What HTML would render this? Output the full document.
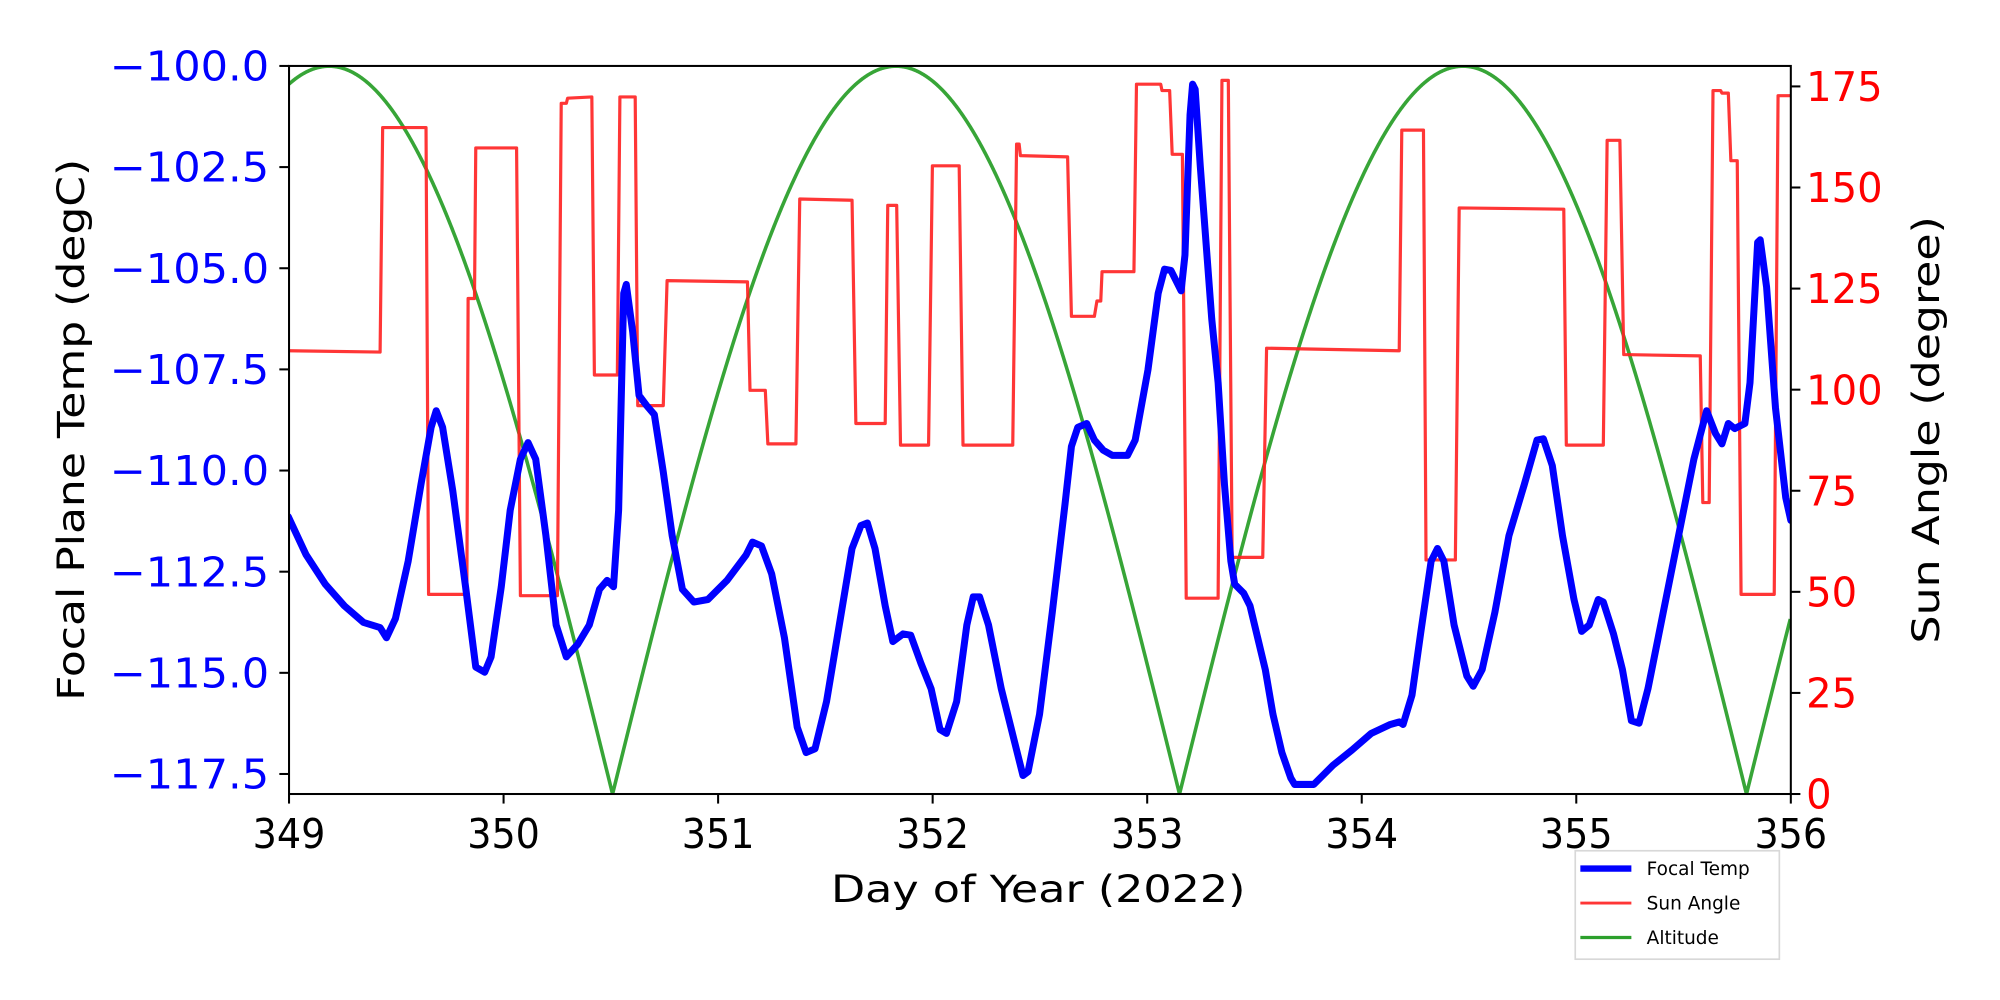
<!DOCTYPE html>
<html><head><meta charset="utf-8"><style>html,body{margin:0;padding:0;background:#fff}svg{display:block}text{font-family:"DejaVu Sans","Liberation Sans",sans-serif}</style></head>
<body>
<svg id="s" width="2000" height="1000" viewBox="0 0 1568 784" xmlns="http://www.w3.org/2000/svg">
<rect width="1568" height="784" fill="#fff"/>
<defs><clipPath id="c"><rect x="226.6" y="51.7" width="1177.4" height="570.8"/></clipPath></defs>
<g clip-path="url(#c)" fill="none" stroke-linejoin="round">
<path id="green" stroke="#2ca02c" stroke-opacity="0.95" stroke-width="2.8" d=""/>
<path stroke="#ff2020" stroke-opacity="0.9" stroke-width="2.5" d="M226,275 L298,276 L300,100 L334,100 L336,466 L366,466 L367,234 L372,234 L373,116 L405,116 L408,467 L437,467 L440,81 L444,81 L445,77 L464,76 L466,294 L484,294 L486,76 L498,76 L500,318 L520,318 L523,220 L586,221 L588,306 L600,306 L602,348 L624,348 L627,156 L668,157 L671,332 L694,332 L696,161 L703,161 L706,349 L728,349 L731,130 L752,130 L755,349 L794,349 L797,113 L799,113 L800,122 L837,123 L840,248 L858,248 L860,236 L863,236 L864,213 L889,213 L891,66 L910,66 L911,71 L917,71 L919,121 L927,121 L930,469 L955,469 L958,63 L963,63 L966,437 L990,437 L993,273 L1097,275 L1099,102 L1116,102 L1118,439 L1141,439 L1144,163 L1226,164 L1228,349 L1257,349 L1260,110 L1270,110 L1273,278 L1333,279 L1335,394 L1340,394 L1343,71 L1349,71 L1350,73 L1355,73 L1357,126 L1362,126 L1365,466 L1391,466 L1394,75 L1404,75"/>
<path stroke="#0000ff" stroke-width="5.5" stroke-linecap="round" d="M226,405 L240,435 L255,458 L270,475 L285,488 L298,492 L303,500 L310,485 L320,440 L330,380 L338,335 L342,322 L347,335 L355,385 L365,460 L373,523 L380,527 L385,515 L393,460 L400,400 L408,360 L414,347 L420,360 L428,420 L436,490 L444,515 L453,505 L462,490 L470,462 L476,455 L481,460 L485,400 L489,230 L491,223 L496,260 L501,310 L507,318 L513,325 L520,370 L527,420 L535,462 L544,472 L555,470 L570,455 L585,435 L590,425 L597,428 L605,450 L615,500 L625,570 L632,590 L639,587 L648,550 L658,490 L668,430 L675,412 L680,410 L686,430 L694,475 L700,503 L708,497 L714,498 L722,520 L730,540 L737,572 L742,575 L750,550 L758,490 L763,468 L768,468 L775,490 L785,540 L795,580 L802,608 L806,605 L815,560 L825,480 L835,395 L840,350 L845,335 L852,332 L858,345 L865,353 L872,357 L884,357 L890,345 L900,290 L908,230 L913,211 L918,212 L926,228 L929,200 L933,90 L935,66 L937,70 L941,130 L950,250 L955,300 L960,380 L965,440 L968,458 L975,465 L980,475 L986,500 L992,525 L998,560 L1005,590 L1012,610 L1015,615 L1030,615 L1045,600 L1060,588 L1075,575 L1090,568 L1097,566 L1100,568 L1107,545 L1114,495 L1122,440 L1127,430 L1132,440 L1140,490 L1150,530 L1155,538 L1162,525 L1172,480 L1183,420 L1195,380 L1205,345 L1210,344 L1217,365 L1225,420 L1234,470 L1240,495 L1246,490 L1253,470 L1257,472 L1265,497 L1272,525 L1279,565 L1285,567 L1292,540 L1300,500 L1310,450 L1320,400 L1328,360 L1338,322 L1345,340 L1350,348 L1355,332 L1360,336 L1368,332 L1372,300 L1378,190 L1380,188 L1385,225 L1392,320 L1400,390 L1404,408"/>
</g>
<rect x="226.6" y="51.7" width="1177.4" height="570.8" fill="none" stroke="#000" stroke-width="1.6"/>
<g id="ticks" stroke="#000" stroke-width="1.6"></g>
<g id="labels"></g>
<text x="814" y="707" font-size="29" text-anchor="middle" textLength="325" lengthAdjust="spacingAndGlyphs">Day of Year (2022)</text>
<text transform="translate(66,337) rotate(-90)" font-size="29" text-anchor="middle" textLength="425" lengthAdjust="spacingAndGlyphs">Focal Plane Temp (degC)</text>
<text transform="translate(1520,337) rotate(-90)" font-size="29" text-anchor="middle" textLength="335" lengthAdjust="spacingAndGlyphs">Sun Angle (degree)</text>
<rect x="1235" y="667" width="160" height="85" fill="#fff" stroke="#d8d8d8" stroke-width="1.3"/>
<line x1="1239" y1="681" x2="1279" y2="681" stroke="#0000ff" stroke-width="5"/>
<line x1="1239" y1="708" x2="1279" y2="708" stroke="#ff2020" stroke-opacity="0.9" stroke-width="2.2"/>
<line x1="1239" y1="735" x2="1279" y2="735" stroke="#2ca02c" stroke-width="2.5"/>
<text x="1291" y="686" font-size="14.5">Focal Temp</text>
<text x="1291" y="713" font-size="14.5">Sun Angle</text>
<text x="1291" y="740" font-size="14.5">Altitude</text>
</svg>
<script>
var NS="http://www.w3.org/2000/svg";
var d="";
for(var x=226.6;x<=1404;x+=0.5){var v=180*Math.abs(Math.cos(Math.PI*(x-258)/444.5));var y=622.5-v*3.17;d+=(d?"L":"M")+x.toFixed(1)+","+y.toFixed(2);}
document.getElementById("green").setAttribute("d",d);
var T=document.getElementById("ticks"),L=document.getElementById("labels");
function ln(x1,y1,x2,y2){var l=document.createElementNS(NS,"line");l.setAttribute("x1",x1);l.setAttribute("y1",y1);l.setAttribute("x2",x2);l.setAttribute("y2",y2);T.appendChild(l);}
function tx(x,y,s,anc,col,tl){var t=document.createElementNS(NS,"text");t.setAttribute("x",x);t.setAttribute("y",y);t.setAttribute("font-size","32");t.setAttribute("text-anchor",anc);t.setAttribute("fill",col);if(tl){t.setAttribute("textLength",tl);t.setAttribute("lengthAdjust","spacingAndGlyphs");}t.textContent=s;L.appendChild(t);}
for(var i=0;i<=7;i++){var x=226.6+i*168.2;ln(x,622.5,x,630);tx(x,665,String(349+i),"middle","#000",57);}
for(var i=0;i<=7;i++){var v=-100-2.5*i;var y=51.7+i*79.3;ln(219,y,226.6,y);tx(211,y+11.5,"\u2212"+(-v).toFixed(1),"end","#0000ff",125);}
for(var i=0;i<=7;i++){var a=25*i;var y=622.5-a*3.17;ln(1404,y,1411.5,y);var s=String(a);tx(1416,y+11.5,s,"start","#ff0000",s.length*20);}
</script>
</body></html>
